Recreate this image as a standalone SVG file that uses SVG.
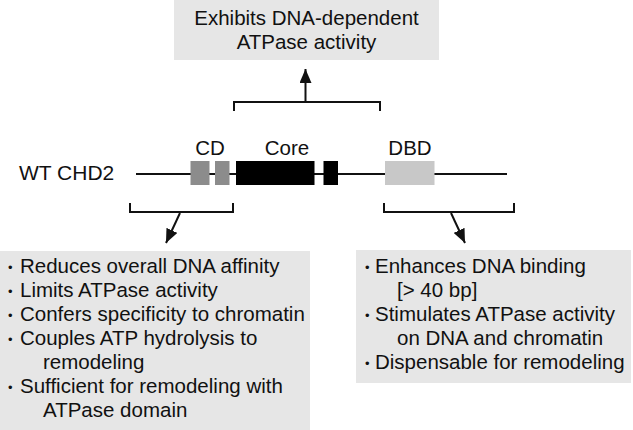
<svg xmlns="http://www.w3.org/2000/svg" width="633" height="430" viewBox="0 0 633 430">
<style>
text{font-family:"Liberation Sans",Arial,sans-serif;fill:#111;font-size:20.5px}
.c{text-anchor:middle}
.b{font-size:13px}
.box{fill:#e6e6e6}
.ln{stroke:#111;stroke-width:2;fill:none}
</style>
<defs>
<marker id="ah" markerWidth="14" markerHeight="12" refX="14" refY="6" viewBox="0 0 14 12" orient="auto" markerUnits="userSpaceOnUse">
<path d="M0,0 L14,6 L0,12 Z" fill="#111"/>
</marker>
</defs>
<g id="top-box">
<rect class="box" x="174" y="0" width="265" height="60"/>
<text class="c" x="306.5" y="25">Exhibits DNA-dependent</text>
<text class="c" x="306.5" y="49">ATPase activity</text>
</g>
<g id="chd2">
<text x="19" y="180" style="font-size:21px">WT CHD2</text>
<line class="ln" x1="136" y1="174" x2="507" y2="174"/>
<rect x="190.5" y="161" width="19" height="24" fill="#8c8c8c"/>
<rect x="215" y="161" width="14.5" height="24" fill="#8c8c8c"/>
<rect x="236" y="161" width="78.5" height="24" fill="#000"/>
<rect x="323.5" y="161" width="14.5" height="24" fill="#000"/>
<rect x="385" y="161" width="49.5" height="24" fill="#c8c8c8"/>
<text class="c" x="210" y="155">CD</text>
<text class="c" x="287" y="155">Core</text>
<text class="c" x="410" y="155">DBD</text>
</g>
<g id="left-box">
<rect class="box" x="0" y="251" width="310" height="179"/>
<text x="8" y="272" class="b">•</text><text x="20" y="273">Reduces overall DNA affinity</text>
<text x="8" y="296" class="b">•</text><text x="20" y="297">Limits ATPase activity</text>
<text x="8" y="320" class="b">•</text><text x="20" y="321">Confers specificity to chromatin</text>
<text x="8" y="344" class="b">•</text><text x="20" y="345">Couples ATP hydrolysis to</text>
<text x="43" y="369">remodeling</text>
<text x="8" y="392" class="b">•</text><text x="20" y="393">Sufficient for remodeling with</text>
<text x="43" y="417">ATPase domain</text>
</g>
<g id="right-box">
<rect class="box" x="356" y="250" width="275" height="133"/>
<text x="365" y="272" class="b">•</text><text x="375" y="273">Enhances DNA binding</text>
<text x="397" y="297">[&gt; 40 bp]</text>
<text x="365" y="320" class="b">•</text><text x="375" y="321">Stimulates ATPase activity</text>
<text x="397" y="345">on DNA and chromatin</text>
<text x="365" y="368" class="b">•</text><text x="375" y="369">Dispensable for remodeling</text>
</g>
<g id="connectors">
<path class="ln" d="M234,111 V102 H380 V111"/>
<line class="ln" x1="305.5" y1="102" x2="305.5" y2="69" marker-end="url(#ah)"/>
<path class="ln" d="M130,203 V212 H233 V203"/>
<path class="ln" d="M384,203 V212 H514 V203"/>
<line class="ln" x1="180" y1="213" x2="166" y2="243" stroke-width="1.5" marker-end="url(#ah)"/>
<line class="ln" x1="451" y1="213" x2="465" y2="243" stroke-width="1.5" marker-end="url(#ah)"/>
</g>
</svg>
